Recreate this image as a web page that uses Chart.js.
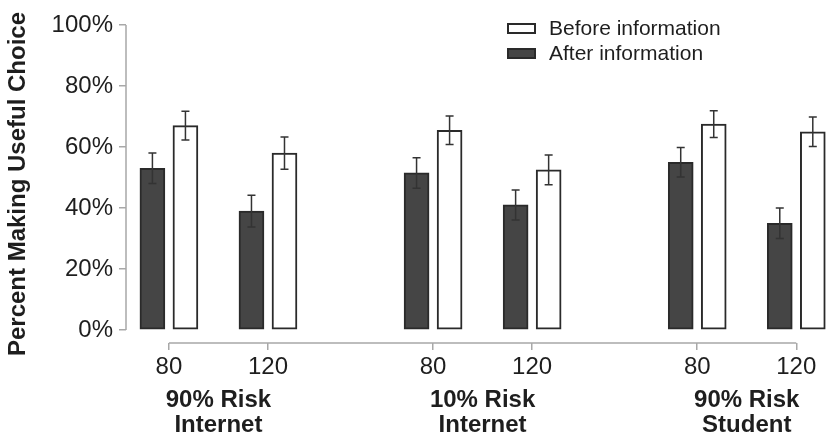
<!DOCTYPE html>
<html lang="en">
<head>
   <meta charset="UTF-8">
   <title>Useful choice by price and risk</title>
   <style>
      body { margin: 0; background: #fff; }
   </style>
</head>
<body>
   <canvas id="chart" width="826" height="440"></canvas>
   <script src="https://cdn.jsdelivr.net/npm/chart.js@4.4.0/dist/chart.umd.min.js"></script>
   <script>
      var groups = [['90% Risk', 'Internet'], ['10% Risk', 'Internet'], ['90% Risk', 'Student']];
      var prices = ['80', '120'];
      var yTicks = [0, 20, 40, 60, 80, 100];

      // one value per group/price pair, in order
      var beforeInfo = [67, 58, 65.5, 52.5, 67.5, 65];
      var beforeErr = [4.7, 5.3, 4.7, 4.9, 4.4, 4.8];
      var afterInfo = [53, 39, 51.5, 41, 55, 35];
      var afterErr = [5, 5.2, 5, 4.9, 4.8, 5];

      // slots on the x axis: price 3 apart, groups 8 apart
      var slots = [];
      groups.forEach(function (g, gi) {
         prices.forEach(function (p, pi) {
            slots.push(gi * 8 + pi * 3);
         });
      });
      var groupCenters = groups.map(function (g, gi) { return gi * 8 + 1.5; });

      var axisGrey = '#a8a8a8';
      var textColor = '#1e1e1e';
      var fontFamily = '"Liberation Sans", Arial, Helvetica, sans-serif';

      function points(values, shift) {
         return values.map(function (v, i) { return { x: slots[i] + shift, y: v }; });
      }

      var errorBars = {
         id: 'errorBars',
         afterDatasetsDraw: function (chart) {
            var ctx = chart.ctx;
            var y = chart.scales.y;
            var errs = [beforeErr, afterErr];
            ctx.save();
            ctx.strokeStyle = '#333';
            ctx.lineWidth = 1.5;
            chart.data.datasets.forEach(function (ds, di) {
               var meta = chart.getDatasetMeta(di);
               meta.data.forEach(function (bar, i) {
                  var v = ds.data[i].y, e = errs[di][i];
                  var top = y.getPixelForValue(v + e), bot = y.getPixelForValue(v - e);
                  ctx.beginPath();
                  ctx.moveTo(bar.x, top); ctx.lineTo(bar.x, bot);
                  ctx.moveTo(bar.x - 4, top); ctx.lineTo(bar.x + 4, top);
                  ctx.moveTo(bar.x - 4, bot); ctx.lineTo(bar.x + 4, bot);
                  ctx.stroke();
               });
            });
            ctx.restore();
         }
      };

      // axis lines only span the data range
      var rangeFrame = {
         id: 'rangeFrame',
         afterDraw: function (chart) {
            var ctx = chart.ctx, x = chart.scales.x, y = chart.scales.y, a = chart.chartArea;
            ctx.save();
            ctx.strokeStyle = axisGrey;
            ctx.lineWidth = 1.5;
            ctx.beginPath();
            ctx.moveTo(a.left, y.getPixelForValue(yTicks[0]));
            ctx.lineTo(a.left, y.getPixelForValue(yTicks[yTicks.length - 1]));
            ctx.moveTo(x.getPixelForValue(slots[0]), a.bottom);
            ctx.lineTo(x.getPixelForValue(slots[slots.length - 1]), a.bottom);
            ctx.stroke();
            ctx.restore();
         }
      };

      var boxLegend = {
         id: 'boxLegend',
         afterDraw: function (chart) {
            var ctx = chart.ctx;
            ctx.save();
            ctx.font = '21px ' + fontFamily;
            ctx.textBaseline = 'middle';
            chart.data.datasets.forEach(function (ds, i) {
               var top = 23 + i * 25;
               ctx.fillStyle = ds.backgroundColor;
               ctx.fillRect(507, top, 29, 11);
               ctx.strokeStyle = ds.borderColor;
               ctx.lineWidth = 2;
               ctx.strokeRect(508, top + 1, 27, 9);
               ctx.fillStyle = textColor;
               ctx.fillText(ds.label, 549, top + 6);
            });
            ctx.restore();
         }
      };

      new Chart(document.getElementById('chart'), {
         type: 'bar',
         data: {
            datasets: [{
               label: 'Before information',
               data: points(beforeInfo, 0.5),
               backgroundColor: '#ffffff',
               borderColor: '#2a2a2a',
               borderWidth: 2,
               borderSkipped: false,
               barThickness: 25,
               grouped: false
            }, {
               label: 'After information',
               data: points(afterInfo, -0.5),
               backgroundColor: '#454545',
               borderColor: '#2a2a2a',
               borderWidth: 2,
               borderSkipped: false,
               barThickness: 25,
               grouped: false
            }]
         },
         options: {
            responsive: false,
            animation: false,
            layout: { padding: { top: 25, right: 0, left: 0, bottom: 0 } },
            plugins: {
               legend: { display: false },
               tooltip: { enabled: false }
            },
            scales: {
               x: {
                  type: 'linear',
                  position: 'bottom',
                  min: -1.3,
                  max: 19.9,
                  offset: false,
                  border: { display: false },
                  grid: { offset: false, drawOnChartArea: false, drawTicks: true, tickLength: 7, color: axisGrey, lineWidth: 1.5 },
                  afterBuildTicks: function (scale) {
                     scale.ticks = slots.map(function (v) { return { value: v }; });
                  },
                  afterFit: function (scale) { scale.height = 40; },
                  ticks: {
                     autoSkip: false,
                     maxRotation: 0,
                     padding: 3,
                     color: textColor,
                     font: { family: fontFamily, size: 24 },
                     callback: function (value, index) { return prices[index % prices.length]; }
                  }
               },
               xg: {
                  type: 'linear',
                  position: 'bottom',
                  min: -1.3,
                  max: 19.9,
                  offset: false,
                  border: { display: false },
                  grid: { display: false, drawTicks: false },
                  afterBuildTicks: function (scale) {
                     scale.ticks = groupCenters.map(function (v) { return { value: v }; });
                  },
                  afterFit: function (scale) { scale.height = 57; },
                  ticks: {
                     autoSkip: false,
                     maxRotation: 0,
                     padding: 5,
                     color: textColor,
                     font: { family: fontFamily, size: 24, weight: 'bold', lineHeight: 1.04 },
                     callback: function (value, index) { return groups[index]; }
                  }
               },
               y: {
                  min: -4.26,
                  max: 100,
                  border: { display: false },
                  grid: { drawOnChartArea: false, drawTicks: true, tickLength: 7, color: axisGrey, lineWidth: 1.5 },
                  afterBuildTicks: function (scale) {
                     scale.ticks = yTicks.map(function (v) { return { value: v }; });
                  },
                  afterFit: function (scale) { scale.width = 126; },
                  ticks: {
                     padding: 6,
                     color: textColor,
                     font: { family: fontFamily, size: 24 },
                     callback: function (value) { return value + '%'; }
                  },
                  title: {
                     display: true,
                     text: 'Percent Making Useful Choice',
                     color: textColor,
                     padding: { top: 4, bottom: 0 },
                     font: { family: fontFamily, size: 24, weight: 'bold' }
                  }
               }
            }
         },
         plugins: [errorBars, rangeFrame, boxLegend]
      });
   </script>
</body>
</html>
